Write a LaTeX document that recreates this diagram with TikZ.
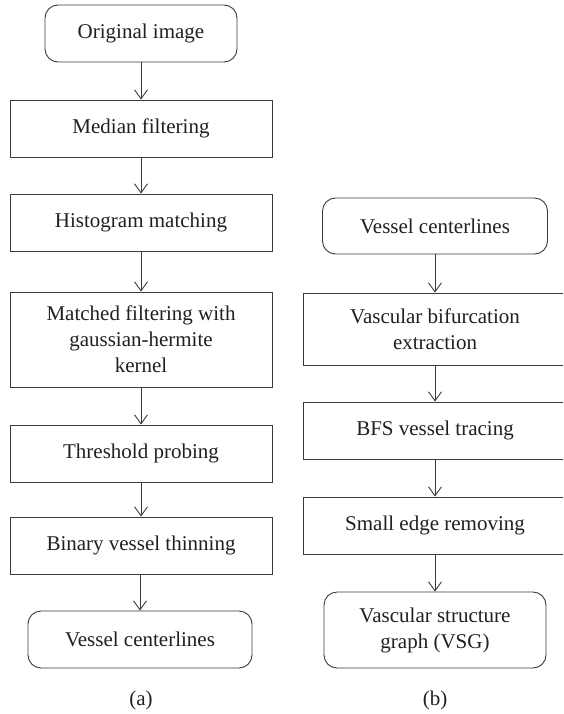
\documentclass[tikz,border=0pt]{standalone}
\usepackage{fontspec}
\setmainfont{Liberation Serif}
\usetikzlibrary{arrows.meta,positioning}
\definecolor{FlowInk}{HTML}{231F20}
\definecolor{FlowLine}{HTML}{3A3A3A}
\tikzset{
  flowbox/.style={
    draw=FlowLine,
    line width=0.9pt,
    fill=white,
    align=center,
    inner sep=0pt,
    minimum height=57pt,
    text=FlowInk,
    font=\fontsize{21}{26}\selectfont
  },
  flowend/.style={
    flowbox,
    rounded corners=13pt
  },
  flowarrow/.style={-{Straight Barb[length=9pt,width=13pt]},draw=FlowLine,line width=0.9pt},
  flowcaption/.style={text=FlowInk,font=\fontsize{21}{26}\selectfont}
}

\begin{document}
\begin{tikzpicture}[
  x=1pt, y=-1pt,
  wide/.style={flowbox,minimum width=262pt},
  wideR/.style={flowbox,minimum width=264pt}
]
  \clip (0,0) rectangle (563,714);

  \node[flowend,minimum width=192pt] (original) at (141,33.5) {Original image};
  \node[wide] (median) at (141,128.5) {Median filtering};
  \node[wide] (histogram) at (141,222.5) {Histogram matching};
  \node[wide,minimum height=95pt] (matched) at (141,339.5) {Matched filtering with\\gaussian-hermite\\kernel};
  \node[wide] (threshold) at (141,453.5) {Threshold probing};
  \node[wide] (thinning) at (141,545.5) {Binary vessel thinning};
  \node[flowend,minimum width=224pt] (centerA) at (140,639.5) {Vessel centerlines};
  \node[flowcaption] (capA) at (141,700) {(a)};

  \node[flowend,minimum width=225pt,minimum height=56pt] (centerB) at (435,226) {Vessel centerlines};
  \node[wideR,minimum height=72pt] (bifurcation) at (435,329) {Vascular bifurcation\\extraction};
  \node[wideR] (tracing) at (435,430.5) {BFS vessel tracing};
  \node[wideR] (smalledge) at (435,525.5) {Small edge removing};
  \node[flowend,minimum width=222pt,minimum height=76pt] (vsg) at (435,630) {Vascular structure\\graph (VSG)};
  \node[flowcaption] (capB) at (435,700) {(b)};

  \draw[flowarrow] (original) -- (median);
  \draw[flowarrow] (median) -- (histogram);
  \draw[flowarrow] (histogram) -- (matched);
  \draw[flowarrow] (matched) -- (threshold);
  \draw[flowarrow] (threshold) -- (thinning);
  \draw[flowarrow] (thinning.south -| centerA) -- (centerA);

  \draw[flowarrow] (centerB) -- (bifurcation);
  \draw[flowarrow] (bifurcation) -- (tracing);
  \draw[flowarrow] (tracing) -- (smalledge);
  \draw[flowarrow] (smalledge) -- (vsg);
\end{tikzpicture}
\end{document}
